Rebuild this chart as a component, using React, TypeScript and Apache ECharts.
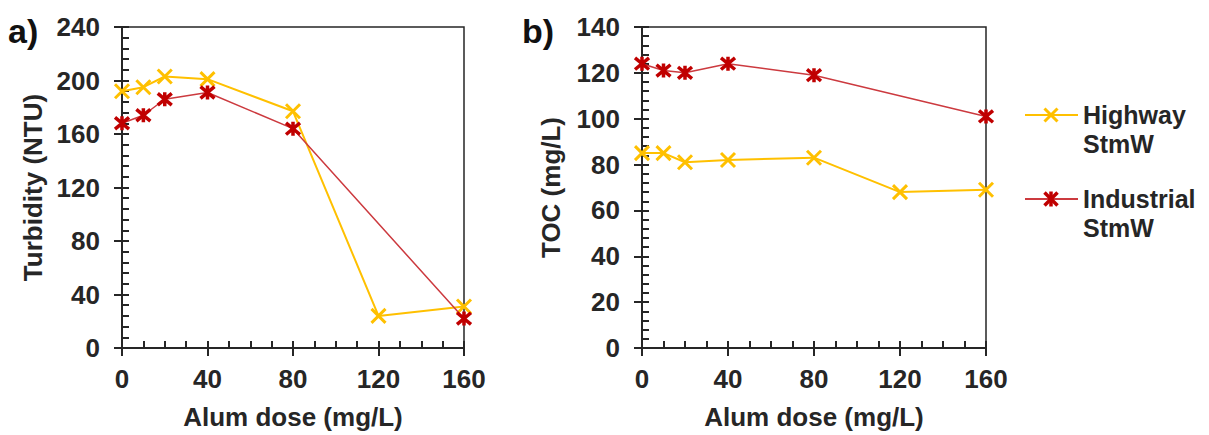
import React, { useEffect, useRef } from "react";
import * as echarts from "echarts";

const doses = [0, 10, 20, 40, 80, 120, 160];
const turbidityHighway = [192, 195, 203, 201, 177, 24, 31];
const turbidityIndustrial = [168, 174, 186, 191, 164, null, 22];
const tocHighway = [85, 85, 81, 82, 83, 68, 69];
const tocIndustrial = [124, 121, 120, 124, 119, null, 101];
const seriesNames = ["Highway\nStmW", "Industrial\nStmW"];

const FONT = '"Liberation Sans", Arial, sans-serif';
const AX = "#262626";
const YELLOW = "#FFC000";
const RED_LINE = "#CC3A3F";
const RED_MARK = "#C00000";
const X_PATH = "path://M0,0L10,10M10,0L0,10";
const STAR_PATH = "path://M0,0L10,10M10,0L0,10M5,-1L5,11";

function pairs(vals: (number | null)[]) {
  const out: number[][] = [];
  vals.forEach((v, i) => {
    if (v !== null) out.push([doses[i], v]);
  });
  return out;
}

const labelStyle = { fontSize: 26, fontWeight: "bold" as const, color: AX, fontFamily: FONT };

function mainX(grid: number) {
  return {
    type: "value", gridIndex: grid, min: 0, max: 160, interval: 40,
    name: "Alum dose (mg/L)", nameLocation: "middle", nameGap: 56,
    nameTextStyle: { ...labelStyle },
    axisLine: { show: true, onZero: false, lineStyle: { color: AX, width: 2 } },
    axisTick: { show: true, inside: false, length: 8, lineStyle: { color: AX, width: 2 } },
    axisLabel: { ...labelStyle, margin: 18 },
    splitLine: { show: false },
  };
}
function innerX(grid: number) {
  return {
    type: "value", gridIndex: grid, min: 0, max: 160, interval: 40, position: "bottom",
    axisLine: { show: true, onZero: false, lineStyle: { color: AX, width: 2 } },
    axisTick: { show: true, inside: true, length: 7, lineStyle: { color: AX, width: 2 } },
    minorTick: { show: true, splitNumber: 4, length: 7, lineStyle: { color: AX, width: 2 } },
    axisLabel: { show: false },
    splitLine: { show: false },
    minorSplitLine: { show: false },
  };
}
function mainY(grid: number, max: number, interval: number, name: string, gap: number) {
  return {
    type: "value", gridIndex: grid, min: 0, max, interval,
    name, nameLocation: "middle", nameGap: gap,
    nameTextStyle: { ...labelStyle },
    axisLine: { show: true, onZero: false, lineStyle: { color: AX, width: 2 } },
    axisTick: { show: true, inside: false, length: 8, lineStyle: { color: AX, width: 2 } },
    axisLabel: { ...labelStyle, margin: 22 },
    splitLine: { show: false },
  };
}
function innerY(grid: number, max: number, interval: number) {
  return {
    type: "value", gridIndex: grid, min: 0, max, interval, position: "left",
    axisLine: { show: true, onZero: false, lineStyle: { color: AX, width: 2 } },
    axisTick: { show: true, inside: true, length: 7, lineStyle: { color: AX, width: 2 } },
    minorTick: { show: true, splitNumber: 5, length: 7, lineStyle: { color: AX, width: 2 } },
    axisLabel: { show: false },
    splitLine: { show: false },
    minorSplitLine: { show: false },
  };
}

function highwaySeries(xi: number, yi: number, vals: (number | null)[]) {
  return {
    type: "line", name: seriesNames[0], xAxisIndex: xi, yAxisIndex: yi,
    data: pairs(vals), symbol: X_PATH, symbolSize: 14,
    itemStyle: { color: YELLOW, borderColor: YELLOW, borderWidth: 3 },
    lineStyle: { color: YELLOW, width: 2 }, z: 3,
  };
}
function industrialSeries(xi: number, yi: number, vals: (number | null)[]) {
  return {
    type: "line", name: seriesNames[1], xAxisIndex: xi, yAxisIndex: yi,
    data: pairs(vals), symbol: STAR_PATH, symbolSize: 14,
    itemStyle: { color: RED_MARK, borderColor: RED_MARK, borderWidth: 3.5 },
    lineStyle: { color: RED_LINE, width: 1.5 }, z: 4,
  };
}

function legendEntry(y: number, color: string, lineColor: string, star: boolean, label: string[]) {
  const cx = 1051;
  const h = 6.5;
  const els: any[] = [
    { type: "line", shape: { x1: 1025, y1: y, x2: 1078, y2: y }, style: { stroke: lineColor, lineWidth: 2 } },
    { type: "line", shape: { x1: cx - h, y1: y - h, x2: cx + h, y2: y + h }, style: { stroke: color, lineWidth: star ? 3.5 : 3 } },
    { type: "line", shape: { x1: cx + h, y1: y - h, x2: cx - h, y2: y + h }, style: { stroke: color, lineWidth: star ? 3.5 : 3 } },
  ];
  if (star) {
    els.push({ type: "line", shape: { x1: cx, y1: y - h - 1, x2: cx, y2: y + h + 1 }, style: { stroke: color, lineWidth: 3.5 } });
  }
  label.forEach((t, i) => {
    els.push({
      type: "text", x: 1083, y: y + i * 29,
      style: { text: t, fill: AX, font: `bold 25px ${FONT}`, textVerticalAlign: "middle", verticalAlign: "middle" },
    });
  });
  return els;
}

export default function App() {
  const ref = useRef<HTMLDivElement>(null);
  useEffect(() => {
    if (!ref.current) return;
    const chart = echarts.init(ref.current, undefined, { renderer: "svg" });
    chart.setOption({
      animation: false,
      backgroundColor: "#ffffff",
      grid: [
        { left: 122, top: 27, width: 342, height: 323, show: true, borderColor: AX, borderWidth: 1.5, backgroundColor: "transparent" },
        { left: 642, top: 27, width: 344, height: 324, show: true, borderColor: AX, borderWidth: 1.5, backgroundColor: "transparent" },
      ],
      xAxis: [mainX(0), mainX(1), innerX(0), innerX(1)],
      yAxis: [
        mainY(0, 240, 40, "Turbidity (NTU)", 76),
        mainY(1, 140, 20, "TOC (mg/L)", 78),
        innerY(0, 240, 40),
        innerY(1, 140, 20),
      ],
      series: [
        highwaySeries(0, 0, turbidityHighway),
        industrialSeries(0, 0, turbidityIndustrial),
        highwaySeries(1, 1, tocHighway),
        industrialSeries(1, 1, tocIndustrial),
      ],
      graphic: [
        { type: "text", x: 8, y: 31, style: { text: "a)", fill: "#111", font: `bold 34px ${FONT}`, verticalAlign: "middle", textVerticalAlign: "middle" } },
        { type: "text", x: 522, y: 31, style: { text: "b)", fill: "#111", font: `bold 34px ${FONT}`, verticalAlign: "middle", textVerticalAlign: "middle" } },
        ...legendEntry(115, YELLOW, YELLOW, false, seriesNames[0].split("\n")),
        ...legendEntry(199, RED_MARK, RED_LINE, true, seriesNames[1].split("\n")),
      ],
    });
    return () => chart.dispose();
  }, []);
  return (
    <div
      ref={ref}
      style={{ position: "fixed", left: 0, top: 0, width: 1209, height: 435, background: "#fff" }}
    />
  );
}
